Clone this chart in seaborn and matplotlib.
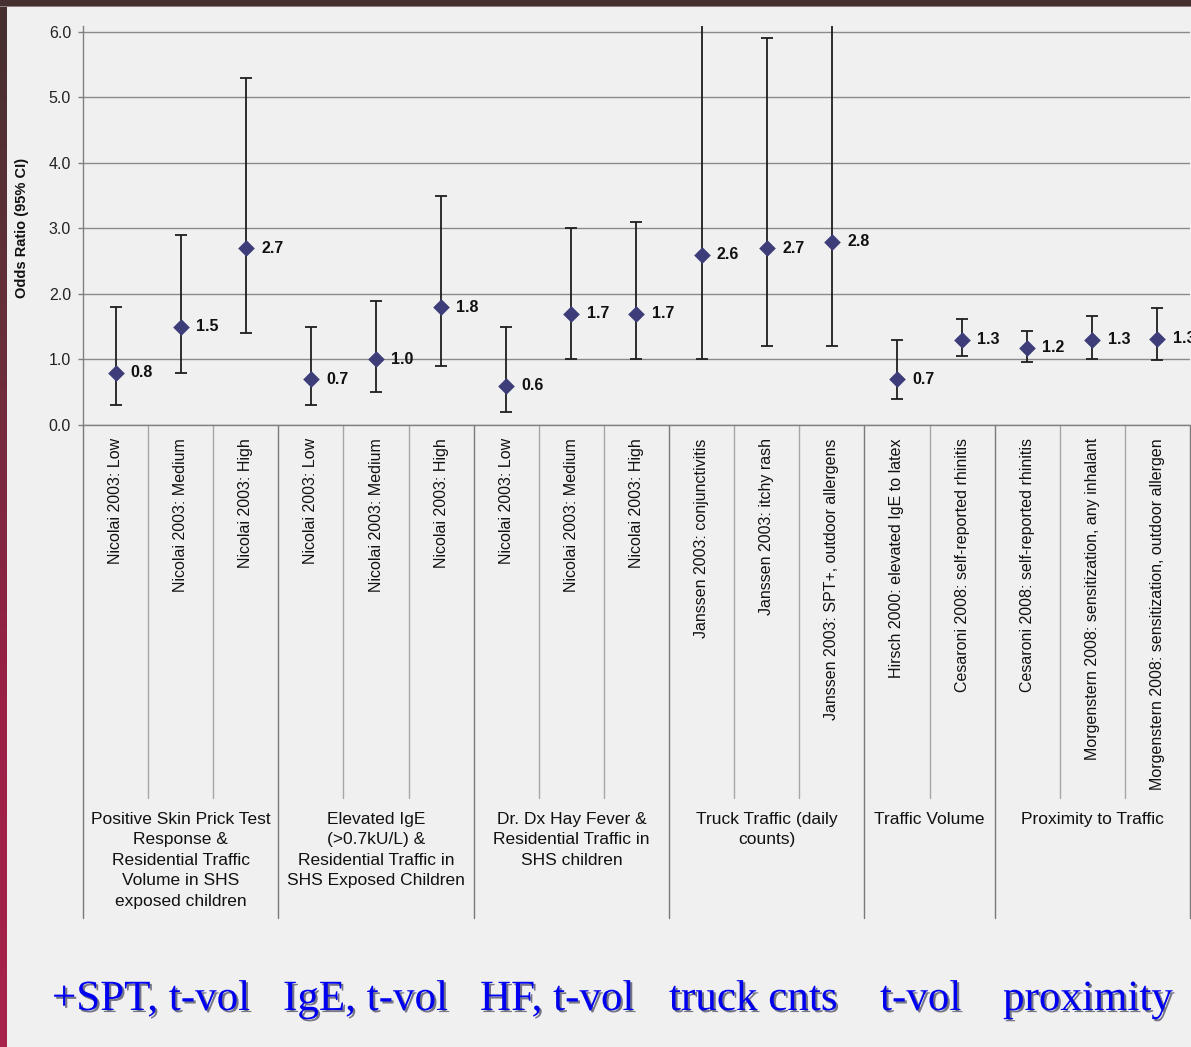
import numpy as np
import pandas as pd
import matplotlib
matplotlib.use("Agg")
import matplotlib.pyplot as plt
import matplotlib.patheffects as pe
from matplotlib.patches import Rectangle
from matplotlib.colors import LinearSegmentedColormap
from matplotlib.transforms import blended_transform_factory
import seaborn as sns

# ---------------- data ----------------
studies = [
    "Nicolai 2003: Low", "Nicolai 2003: Medium", "Nicolai 2003: High",
    "Nicolai 2003: Low", "Nicolai 2003: Medium", "Nicolai 2003: High",
    "Nicolai 2003: Low", "Nicolai 2003: Medium", "Nicolai 2003: High",
    "Janssen 2003: conjunctivitis", "Janssen 2003: itchy rash",
    "Janssen 2003: SPT+, outdoor allergens",
    "Hirsch 2000: elevated IgE to latex", "Cesaroni 2008: self-reported rhinitis",
    "Cesaroni 2008: self-reported rhinitis",
    "Morgenstern 2008: sensitization, any inhalant",
    "Morgenstern 2008: sensitization, outdoor allergen",
]
odds_ratio = [0.8, 1.5, 2.7, 0.7, 1.0, 1.8, 0.6, 1.7, 1.7, 2.6, 2.7, 2.8, 0.7, 1.3, 1.18, 1.3, 1.32]
ci_low = [0.3, 0.8, 1.4, 0.3, 0.5, 0.9, 0.2, 1.0, 1.0, 1.0, 1.2, 1.2, 0.4, 1.05, 0.96, 1.01, 0.99]
ci_high = [1.8, 2.9, 5.3, 1.5, 1.9, 3.5, 1.5, 3.0, 3.1, 7.5, 5.9, 7.5, 1.3, 1.62, 1.44, 1.66, 1.79]

group_labels = [
    "Positive Skin Prick Test\nResponse &\nResidential Traffic\nVolume in SHS\nexposed children",
    "Elevated IgE\n(>0.7kU/L) &\nResidential Traffic in\nSHS Exposed Children",
    "Dr. Dx Hay Fever &\nResidential Traffic in\nSHS children",
    "Truck Traffic (daily\ncounts)",
    "Traffic Volume",
    "Proximity to Traffic",
]
group_sizes = [3, 3, 3, 3, 2, 3]
short_labels = ["+SPT, t-vol", "IgE, t-vol", "HF, t-vol", "truck cnts", "t-vol", "proximity"]
short_label_x = [52, 283, 480, 669, 880, 1003]
y_ticks = [0.0, 1.0, 2.0, 3.0, 4.0, 5.0, 6.0]
y_label = "Odds Ratio (95% CI)"

# ---------------- figure ----------------
sns.set_style("white")
plt.rcParams["font.family"] = ["Liberation Sans", "DejaVu Sans"]

W, H = 1191, 1047
BG = "#f0f0f0"
fig = plt.figure(figsize=(W / 100, H / 100), dpi=100, facecolor=BG)

ax_top, ax_bot, ax_left, ax_right = 26, 425, 83, 1190
ax = fig.add_axes([ax_left / W, 1 - ax_bot / H, (ax_right - ax_left) / W, (ax_bot - ax_top) / H])
ax.set_facecolor(BG)
axh = ax_bot - ax_top

n = len(studies)
df = pd.DataFrame({"pos": np.arange(n), "OR": odds_ratio, "lo": ci_low, "hi": ci_high})

ax.errorbar(df["pos"], df["OR"], yerr=[df["OR"] - df["lo"], df["hi"] - df["OR"]],
            fmt="none", ecolor="#1e1e1e", elinewidth=1.3, capsize=4.5, capthick=1.3, zorder=3)
sns.scatterplot(data=df, x="pos", y="OR", marker="D", s=72, color="#3d3d7a",
                edgecolor="#3d3d7a", linewidth=0, zorder=4, ax=ax, legend=False)

for p, v in zip(df["pos"], df["OR"]):
    ax.annotate(f"{v:.1f}", (p, v), xytext=(11, 0), textcoords="offset points",
                ha="left", va="center", fontsize=11.5, fontweight="bold", color="#111111",
                annotation_clip=False, zorder=5)

ax.set_xlim(-0.5, n - 0.5)
ax.set_ylim(0, 6.09)
ax.set_yticks(y_ticks)
ax.set_yticklabels([f"{t:.1f}" for t in y_ticks])
ax.yaxis.grid(True, color="#8a8a8a", lw=1)
ax.set_axisbelow(True)
ax.tick_params(axis="y", length=3.6, width=1, color="#808080", pad=5, labelsize=11.5,
               labelcolor="#222222", left=True)
ax.set_xticks(df["pos"])
ax.set_xticklabels(studies, rotation=90, va="top", ha="center", fontsize=11.5, color="#111111")
ax.tick_params(axis="x", length=0, pad=9.5)
ax.set_xlabel("")
ax.set_ylabel("")
for s in ["top", "right"]:
    ax.spines[s].set_visible(False)
for s in ["left", "bottom"]:
    ax.spines[s].set_color("#808080")
    ax.spines[s].set_linewidth(1)

fig.text(22 / W, 1 - 228 / H, y_label, rotation=90, ha="center", va="center",
         fontsize=10.5, fontweight="bold", color="#111111")

# category separators
trans = blended_transform_factory(ax.transData, ax.transAxes)
bounds = np.cumsum([0] + group_sizes)
for b in range(0, n + 1):
    xb = b - 0.5
    if b in bounds:
        ax.plot([xb, xb], [0, -(918 - ax_bot) / axh], transform=trans, clip_on=False,
                color="#7a7a7a", lw=1, zorder=2)
    else:
        ax.plot([xb, xb], [0, -(798 - ax_bot) / axh], transform=trans, clip_on=False,
                color="#a6a6a6", lw=1, zorder=2)

for i, lab in enumerate(group_labels):
    cx = (bounds[i] + bounds[i + 1]) / 2 - 0.5
    ax.text(cx, -(812 - ax_bot) / axh, lab, transform=trans, ha="center", va="top",
            fontsize=12.5, linespacing=1.45, color="#111111", multialignment="center")

# big bottom labels
for lab, xp in zip(short_labels, short_label_x):
    fig.text(xp / W, 1 - 1010 / H, lab, ha="left", va="baseline", fontsize=31,
             family="Liberation Serif", color="#0000f0",
             path_effects=[pe.SimplePatchShadow(offset=(1.5, -1.5), shadow_rgbFace="#101030", alpha=0.55),
                           pe.Normal()])

# frame borders
fig.add_artist(Rectangle((0, 1 - 6 / H), 1, 6 / H, transform=fig.transFigure,
                         color="#45302f", lw=0, zorder=10))
fig.add_artist(Rectangle((0, 1 - 7 / H), 1, 1 / H, transform=fig.transFigure,
                         color="#8a8080", lw=0, zorder=10))
bax = fig.add_axes([0, 0, 7 / W, 1 - 6 / H])
cmap = LinearSegmentedColormap.from_list("frame", ["#45302f", "#6a2e3a", "#9a2046", "#a8234c"])
bax.imshow(np.linspace(0, 1, 256).reshape(-1, 1), aspect="auto", cmap=cmap)
bax.set_axis_off()

fig.savefig("out.png", dpi=100, facecolor=BG)
